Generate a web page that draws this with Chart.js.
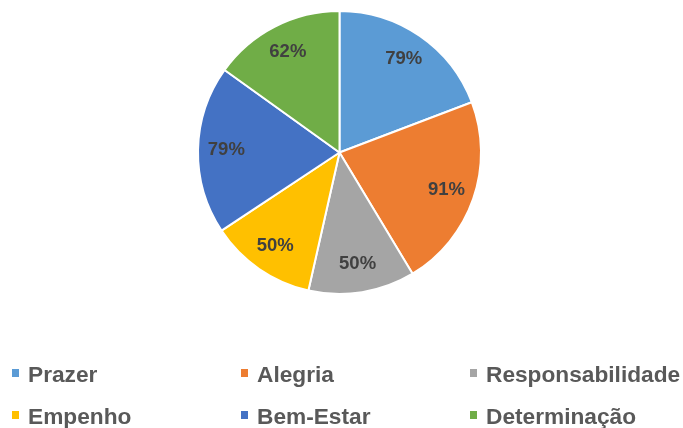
<!DOCTYPE html>
<html>
<head>
<meta charset="utf-8">
<script src="https://cdn.jsdelivr.net/npm/chart.js@4"></script>
<style>
  html, body { margin: 0; padding: 0; background: #ffffff; }
  #wrap { position: relative; width: 683px; height: 428px; overflow: hidden; }
  #chartBox { position: absolute; left: 0; top: 0; width: 683px; height: 310px; }
  #legend { position: absolute; left: 0; top: 0; width: 683px; height: 428px; pointer-events: none; }
  .item { position: absolute; font-family: "Liberation Sans", Arial, sans-serif; font-weight: bold;
          font-size: 22.7px; color: #595959; white-space: nowrap; line-height: 1; }
  .sw { position: absolute; width: 7px; height: 8px; }
</style>
</head>
<body>
<div id="wrap">
  <div id="chartBox"><canvas id="c"></canvas></div>
  <div id="legend"></div>
</div>
<script>
const categories = ["Prazer", "Alegria", "Responsabilidade", "Empenho", "Bem-Estar", "Determinação"];
const values = [79, 91, 50, 50, 79, 62];
const colors = ["#5B9BD5", "#ED7D31", "#A5A5A5", "#FFC000", "#4472C4", "#70AD47"];

const labelPlugin = {
  id: 'sliceLabels',
  afterDatasetsDraw(chart) {
    const ctx = chart.ctx;
    const meta = chart.getDatasetMeta(0);
    ctx.save();
    ctx.font = 'bold 18.5px "Liberation Sans", Arial, sans-serif';
    ctx.fillStyle = '#404040';
    ctx.textAlign = 'center';
    ctx.textBaseline = 'middle';
    meta.data.forEach((arc, i) => {
      const p = arc.getProps(['x', 'y', 'startAngle', 'endAngle', 'outerRadius'], true);
      const mid = (p.startAngle + p.endAngle) / 2;
      const r = p.outerRadius * 0.8;
      ctx.fillText(values[i] + '%', p.x + Math.cos(mid) * r, p.y + Math.sin(mid) * r);
    });
    ctx.restore();
  }
};

new Chart(document.getElementById('c'), {
  type: 'pie',
  data: {
    labels: categories,
    datasets: [{
      data: values,
      backgroundColor: colors,
      borderColor: '#ffffff',
      borderWidth: 2
    }]
  },
  options: {
    responsive: true,
    maintainAspectRatio: false,
    animation: false,
    layout: { padding: { top: 10, bottom: 15, left: 0, right: 4 } },
    plugins: {
      legend: { display: false },
      tooltip: { enabled: false }
    }
  },
  plugins: [labelPlugin]
});

// legend built from the category/colour arrays
const legend = document.getElementById('legend');
const colX = [12, 241, 470];
const rowY = [366, 408];
categories.forEach((name, i) => {
  const col = i % 3, row = Math.floor(i / 3);
  const sw = document.createElement('div');
  sw.className = 'sw';
  sw.style.background = colors[i];
  sw.style.left = colX[col] + 'px';
  sw.style.top = (rowY[row] + 3) + 'px';
  legend.appendChild(sw);
  const t = document.createElement('div');
  t.className = 'item';
  t.textContent = name;
  t.style.left = (colX[col] + 16) + 'px';
  t.style.top = (rowY[row] - 3) + 'px';
  legend.appendChild(t);
});
</script>
</body>
</html>
